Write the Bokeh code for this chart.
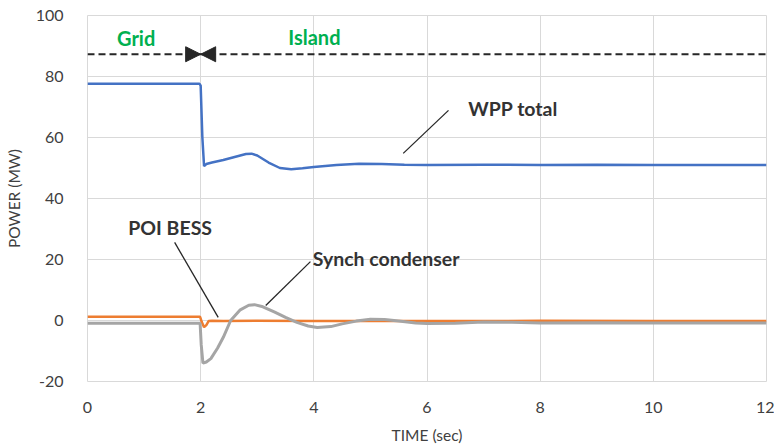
from bokeh.plotting import figure
from bokeh.models import Range1d, Span, Label, Arrow, NormalHead, FixedTicker
from bokeh.embed import file_html
from bokeh.resources import INLINE

# ---- data ----
wpp_t = [0, 1.98, 2.0, 2.03, 2.06, 2.1, 2.2, 2.4, 2.6, 2.8, 2.9, 3.0, 3.2, 3.4, 3.6, 3.8,
         4.0, 4.4, 4.8, 5.2, 5.6, 6.0, 7, 8, 9, 10, 11, 12]
wpp_v = [77.6, 77.6, 77.0, 60.0, 50.6, 51.3, 51.8, 52.6, 53.6, 54.6, 54.7, 54.1, 51.8, 50.0, 49.6, 49.9,
         50.3, 51.0, 51.4, 51.3, 51.1, 51.0, 51.1, 51.0, 51.1, 51.0, 51.0, 51.0]

bess_t = [0, 1.99, 2.02, 2.06, 2.1, 2.14, 2.2, 2.4, 3, 4, 6, 8, 10, 12]
bess_v = [1.2, 1.2, -0.5, -2.2, -1.5, -0.2, -0.1, -0.2, -0.1, -0.2, -0.2, -0.1, -0.2, -0.2]

sc_t = [0, 1.99, 2.01, 2.04, 2.1, 2.18, 2.3, 2.4, 2.53, 2.7, 2.85, 2.95, 3.1, 3.3, 3.5, 3.7,
        3.9, 4.06, 4.3, 4.5, 4.75, 5.0, 5.25, 5.5, 5.8, 6.0, 6.5, 7.0, 7.5, 8, 9, 10, 11, 12]
sc_v = [-0.9, -0.9, -8.0, -14.0, -13.6, -12.5, -9.0, -5.5, 0.0, 3.5, 5.0, 5.2, 4.5, 2.8, 1.0, -0.6,
        -1.8, -2.3, -2.0, -1.1, -0.2, 0.4, 0.3, -0.2, -0.8, -1.0, -0.9, -0.5, -0.6, -0.8, -0.7, -0.8, -0.8, -0.8]

x_ticks = [0, 2, 4, 6, 8, 10, 12]
y_ticks = [-20, 0, 20, 40, 60, 80, 100]
y_tick_labels = {-20: "-20", 0: "0", 20: "20", 40: "40", 60: "60", 80: "80", 100: "100"}

boundary_level = 87.3
switch_time = 2.0

# annotation text positions (data units) and leader lines
labels = ["WPP total", "POI BESS", "Synch condenser"]
label_x = [6.73, 0.72, 3.98]
label_y = [69.5, 30.5, 20.3]
leader_x0 = [6.38, 1.54, 3.94]
leader_y0 = [68.9, 25.6, 19.3]
leader_x1 = [5.58, 2.31, 3.15]
leader_y1 = [54.8, 1.0, 4.9]

region_labels = ["Grid", "Island"]
region_x = [0.86, 4.01]
region_y = [92.6, 93.1]

FONT = "Lato"
TXT = "#404040"

p = figure(width=774, height=448, output_backend="svg", toolbar_location=None,
           x_range=Range1d(0, 12), y_range=Range1d(-20, 100),
           min_border_left=87, min_border_right=8, min_border_top=15, min_border_bottom=67)
p.background_fill_color = "white"
p.border_fill_color = "white"
p.outline_line_color = "#d9d9d9"
p.outline_line_width = 1

for ax in (p.xaxis, p.yaxis):
    ax.axis_line_color = None
    ax.major_tick_line_color = None
    ax.minor_tick_line_color = None
    ax.major_label_text_font = FONT
    ax.major_label_text_font_size = "16px"
    ax.major_label_text_color = TXT
    ax.axis_label_text_font = FONT
    ax.axis_label_text_font_size = "15.5px"
    ax.axis_label_text_font_style = "normal"
    ax.axis_label_text_color = TXT

p.xaxis.ticker = FixedTicker(ticks=x_ticks)
p.yaxis.ticker = FixedTicker(ticks=y_ticks)
p.yaxis.major_label_overrides = y_tick_labels
p.xaxis.major_label_standoff = 14
p.yaxis.major_label_standoff = 18
p.xaxis.axis_label = "TIME (sec)"
p.yaxis.axis_label = "POWER (MW)"
p.xaxis.axis_label_standoff = 10
p.yaxis.axis_label_standoff = 10

p.grid.grid_line_color = "#d9d9d9"
p.grid.grid_line_width = 1

# series
p.line(wpp_t, wpp_v, line_color="#4472C4", line_width=2.5)
p.line(bess_t, bess_v, line_color="#ED7D31", line_width=2.5)
p.line(sc_t, sc_v, line_color="#A5A5A5", line_width=3)

# dashed boundary line
p.add_layout(Span(location=boundary_level, dimension="width", line_color="#262626",
                  line_width=2.2, line_dash="7 4"))
# arrowheads meeting at switch time
p.add_layout(Arrow(end=NormalHead(size=15, fill_color="#262626", line_color="#262626"),
                   x_start=switch_time - 0.5, y_start=boundary_level,
                   x_end=switch_time, y_end=boundary_level, line_alpha=0))
p.add_layout(Arrow(end=NormalHead(size=15, fill_color="#262626", line_color="#262626"),
                   x_start=switch_time + 0.5, y_start=boundary_level,
                   x_end=switch_time, y_end=boundary_level, line_alpha=0))

for txt, x, y in zip(region_labels, region_x, region_y):
    p.add_layout(Label(x=x, y=y, text=txt, text_align="center", text_baseline="middle",
                       text_font=FONT, text_font_style="bold", text_font_size="20px",
                       text_color="#00B050"))

p.segment(leader_x0, leader_y0, leader_x1, leader_y1, line_color="#262626", line_width=1.3)
for txt, x, y in zip(labels, label_x, label_y):
    p.add_layout(Label(x=x, y=y, text=txt, text_align="left", text_baseline="middle",
                       text_font=FONT, text_font_style="bold", text_font_size="19.5px",
                       text_color="#333333"))

open("out.html", "w").write(file_html(p, INLINE))
